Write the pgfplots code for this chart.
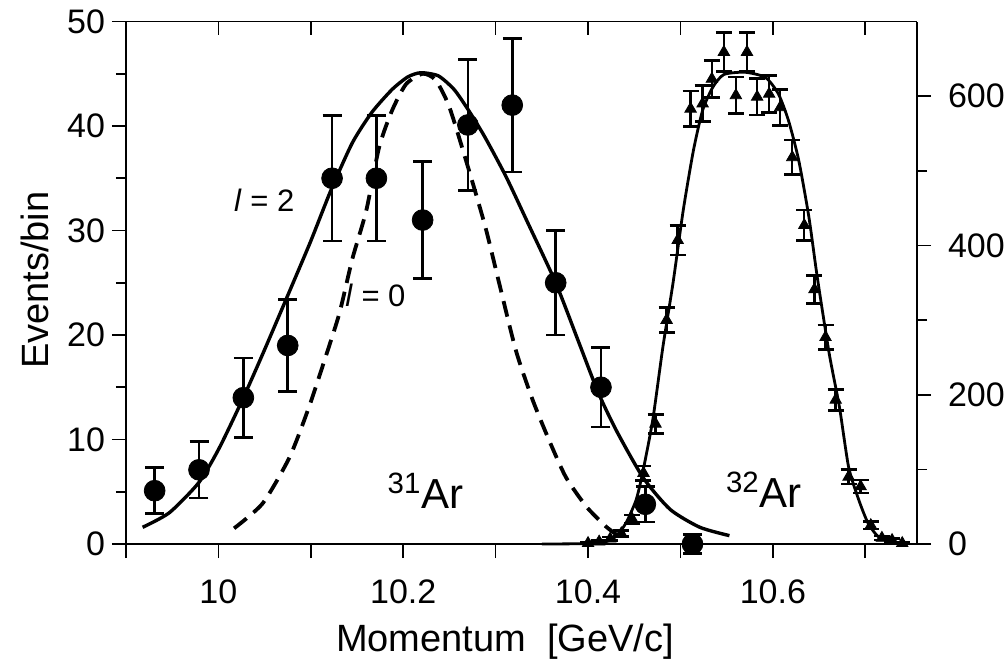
\documentclass[border=0pt]{standalone}
\usepackage{fontspec}
\setmainfont{Liberation Sans}
\usepackage{pgfplots}
\pgfplotsset{compat=1.18}
\pgfplotsset{
  common/.style={
    scale only axis, width=395.5pt, height=261.25pt,
    xmin=9.9, xmax=10.756, clip=false,
    axis line style={line width=0.8pt, black},
    every tick/.style={black, line width=0.8pt},
    major tick length=7pt, minor tick length=5pt,
    tick label style={font=\fontsize{17}{20}\selectfont},
    /pgf/number format/assume math mode=true,
  },
}
\begin{document}
\begin{tikzpicture}
\path[use as bounding box] (-63pt,-58pt) rectangle (441pt,272pt);
% ---------- left axis: 31Ar ----------
\begin{axis}[common,
  ymin=0, ymax=50,
  axis x line*=bottom, axis y line*=left, tick align=outside,
  xtick={9.9,10.0,10.1,10.2,10.3,10.4,10.5,10.6,10.7},
  xticklabels={,10,,10.2,,10.4,,10.6,},
  xticklabel style={yshift=-7.5pt},
  ytick={0,10,20,30,40,50}, minor ytick={5,15,25,35,45},
  xlabel={Momentum\ \ [GeV/c]},
  ylabel={Events/bin},
  label style={font=\fontsize{19}{22}\selectfont},
  xlabel style={at={(axis description cs:0.4792,-0.206)}, anchor=base},
  ylabel style={at={(axis description cs:-0.115,0.505)}, anchor=center},
]
% l=2 fit
\addplot[black, line width=1.7pt, smooth, tension=0.4] coordinates {
(9.918,1.6) (9.947,3.0) (9.979,5.9) (10.001,9.2) (10.027,14.0) (10.050,18.6)
(10.078,24.4) (10.100,29.0) (10.122,33.9) (10.145,38.4) (10.166,41.3)
(10.188,43.5) (10.205,44.7) (10.219,45.1) (10.238,44.8) (10.255,43.5) (10.270,41.6)
(10.288,39.0) (10.311,35.2) (10.335,30.7) (10.365,25.0) (10.390,19.3)
(10.411,14.5) (10.431,10.8) (10.460,6.3) (10.489,3.3) (10.521,1.6) (10.553,0.8)
};
% l=0 fit
\addplot[black, line width=1.9pt, dash pattern=on 8pt off 4.5pt, smooth, tension=0.4] coordinates {
(10.017,1.5) (10.048,3.9) (10.077,8.3) (10.098,13.1) (10.116,17.9)
(10.131,22.1) (10.145,27.3) (10.160,31.9) (10.174,38.0) (10.188,41.5)
(10.203,44.0) (10.221,45.0) (10.235,44.4) (10.250,41.8) (10.271,35.8)
(10.289,30.3) (10.304,24.9) (10.322,18.5) (10.340,13.8) (10.358,9.9)
(10.376,6.4) (10.398,3.6) (10.419,1.7) (10.434,0.7)
};
% data
\addplot[black, only marks, mark=*, mark size=5.2pt,
  error bars/.cd, y dir=both, y explicit, error mark=-,
  error bar style={line width=1.3pt, black},
  error mark options={rotate=90, line width=1.4pt, mark size=4.75pt, black}]
  table[x=x, y=y, y error=e] {
x y e
9.931 5.1 2.2
9.979 7.1 2.7
10.027 14.0 3.8
10.075 19.0 4.4
10.123 35.0 6.0
10.171 35.0 6.0
10.221 31.0 5.6
10.270 40.1 6.3
10.318 42.0 6.4
10.365 25.0 5.0
10.414 15.0 3.8
10.462 3.8 1.7
10.513 0.0 0.9
};
\node[anchor=base west, font=\fontsize{15.5}{18}\selectfont] at (axis cs:10.0094,31.8) {\textit{l} = 2};
\node[anchor=base west, font=\fontsize{15.5}{18}\selectfont] at (axis cs:10.1297,22.7) {\textit{l} = 0};
\node[anchor=base west, font=\fontsize{21}{24}\selectfont, inner sep=0pt] at (axis cs:10.1828,3.35) {\textsuperscript{31}Ar};
\node[anchor=base west, font=\fontsize{21}{24}\selectfont, inner sep=0pt] at (axis cs:10.549,3.45) {\textsuperscript{32}Ar};
\end{axis}
% ---------- right axis: 32Ar ----------
\begin{axis}[common,
  ymin=0, ymax=700,
  hide x axis, axis y line*=right, tick align=outside,
  ytick={0,200,400,600}, minor ytick={100,300,500},
  yticklabel style={xshift=5pt},
]
\addplot[black, line width=1.4pt, smooth, tension=0.4] coordinates {
(10.350,0) (10.397,0.5) (10.419,3) (10.430,10) (10.441,28) (10.452,59)
(10.459,95) (10.470,166) (10.481,264) (10.492,350) (10.503,447) (10.514,527)
(10.524,581) (10.535,612) (10.547,629) (10.570,632) (10.592,625) (10.606,603)
(10.617,567) (10.628,514) (10.639,438) (10.648,358) (10.661,255) (10.672,184)
(10.682,103) (10.693,59) (10.703,28) (10.714,10) (10.729,3) (10.747,1)
};
\addplot[black, only marks, mark=triangle*, mark size=3.3pt,
  error bars/.cd, y dir=both, y explicit, error mark=-,
  error bar style={line width=1.2pt, black},
  error mark options={rotate=90, line width=1.3pt, mark size=4pt, black}]
  table[x=x, y=y, y error=e] {
x y e
10.400 1 1
10.412 3 1.7
10.424 7 2.6
10.436 14 3.7
10.448 33 5.7
10.460 95 9.7
10.473 161 12.7
10.485 300 17
10.497 407 20
10.511 583 24
10.524 590 24
10.534 623 25
10.547 659 26
10.560 601 24.5
10.572 659 26
10.583 599 24.5
10.596 603 24.5
10.608 585 24
10.621 518 23
10.634 427 20.7
10.645 341 18.5
10.657 277 16.6
10.668 193 13.9
10.682 90 9.5
10.695 77 8.8
10.706 25 5
10.718 8 2.8
10.729 5 2.2
10.740 1 1
};
\end{axis}
% ---------- top ticks ----------
\begin{axis}[common,
  ymin=0, ymax=1,
  hide y axis, axis x line*=top, tick align=inside,
  xtick={10.0,10.1,10.2,10.3,10.4,10.5,10.6,10.7},
  xticklabels={},
]
\end{axis}
\end{tikzpicture}
\end{document}
